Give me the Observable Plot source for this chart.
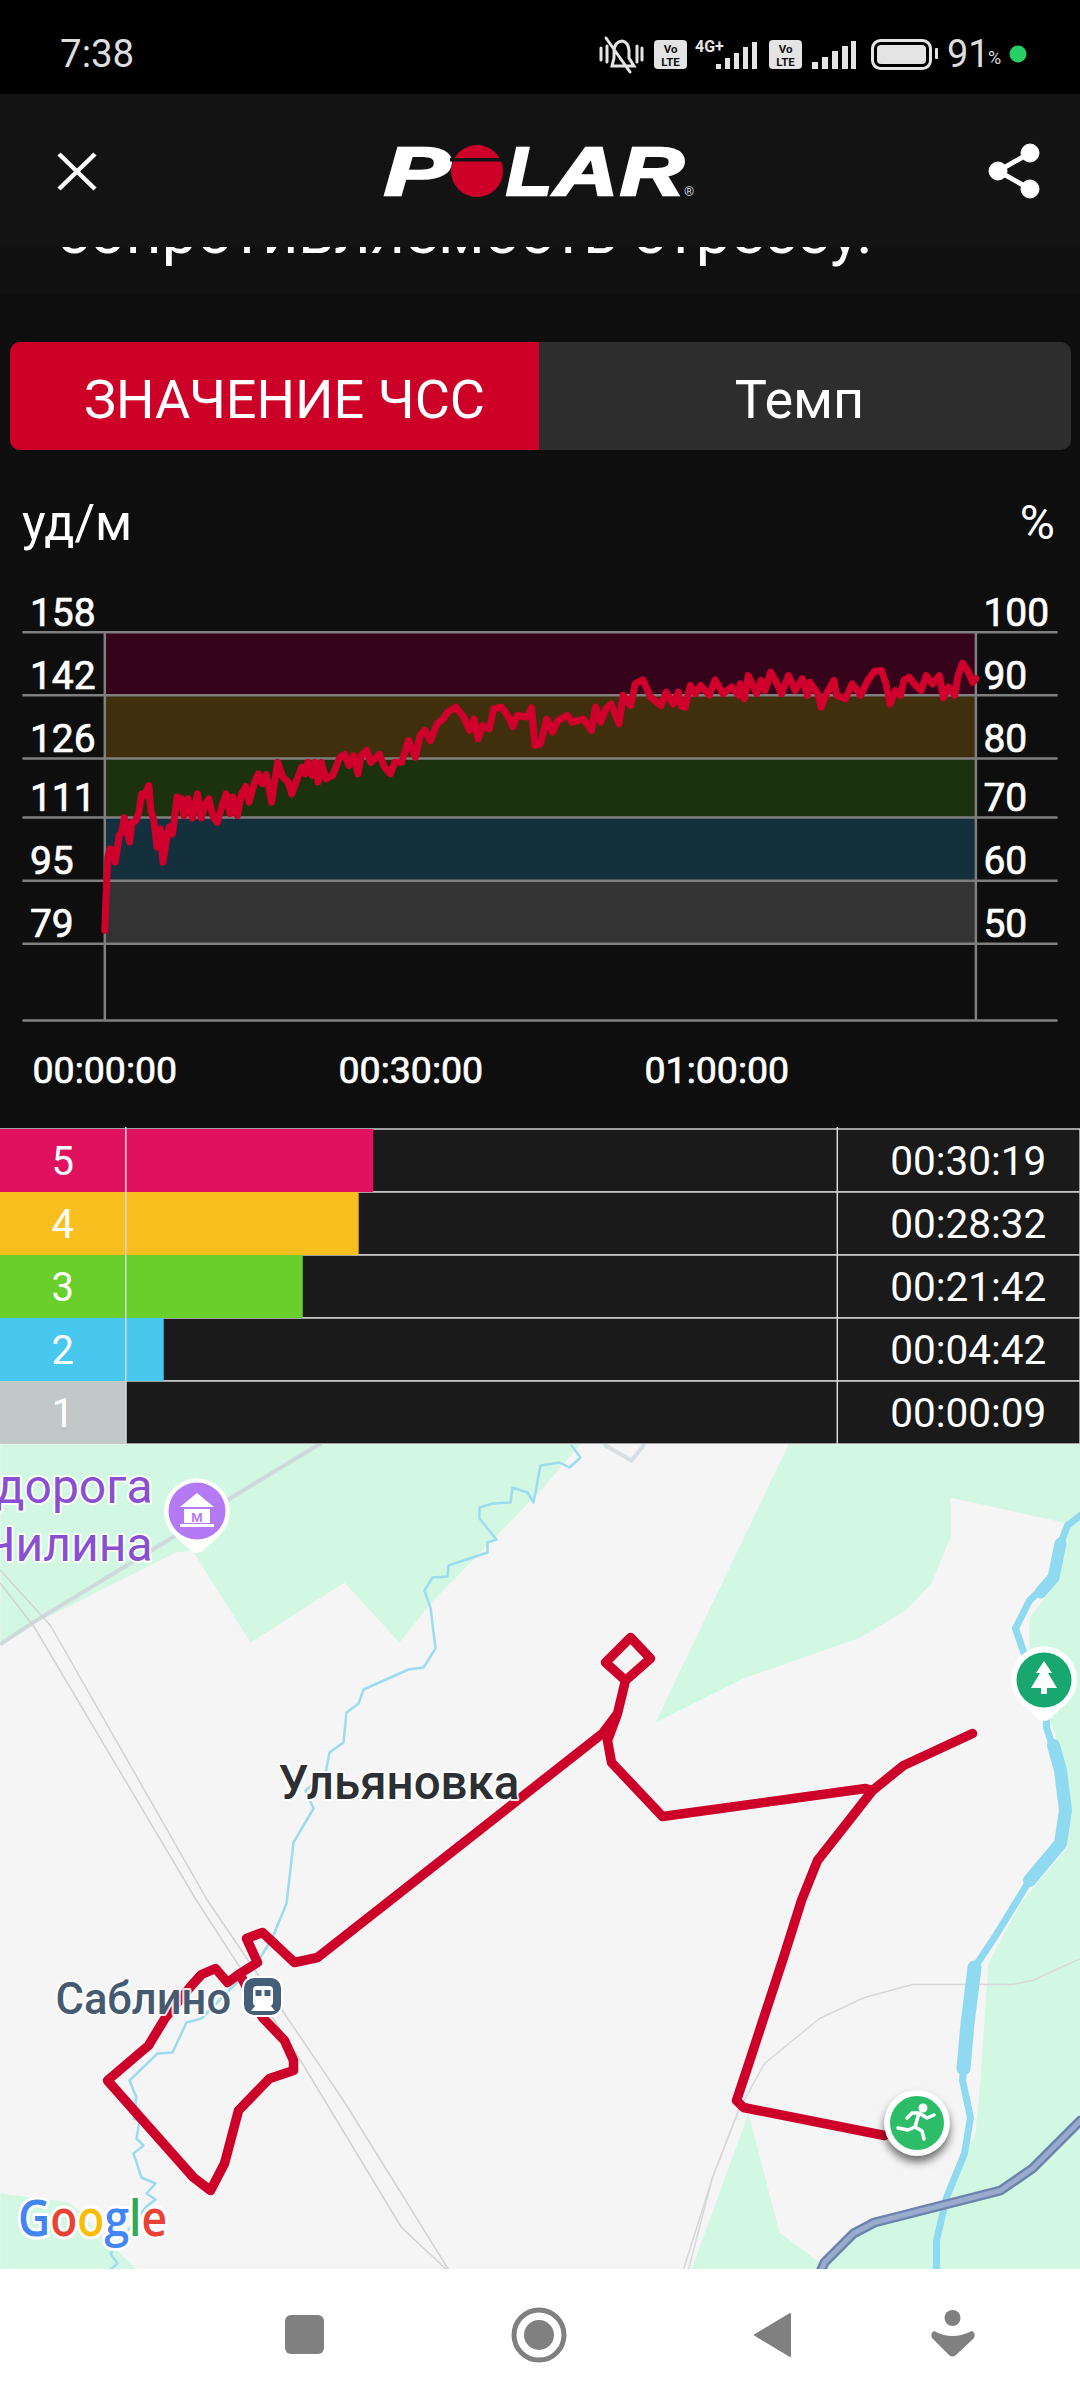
<!DOCTYPE html>
<html lang="ru"><head><meta charset="utf-8">
<script src="https://cdn.jsdelivr.net/npm/d3@7"></script>
<script src="https://cdn.jsdelivr.net/npm/@observablehq/plot@0.6"></script>
<style>
html,body{margin:0;padding:0;width:1080px;height:2400px;overflow:hidden;background:#0e0e0e;font-family:Roboto,sans-serif}
.a{position:absolute;white-space:nowrap}
.slot svg{background:transparent!important;display:block}
.slot{position:absolute;left:0;width:1080px}
</style></head><body>
<div class="a" style="left:0;top:0;width:1080px;height:94px;background:#000"></div>
<div class="a" style="left:0;top:94px;width:1080px;height:200px;background:#131313"></div>
<div class="a" style="left:0;top:247px;width:1080px;height:47px;overflow:hidden;background:#101010">
 <div class="a" style="left:57px;top:-52px;font-size:62.7px;line-height:74px;color:#fff">сопротивляемость стрессу.</div>
</div>
<div class="a" style="left:60px;top:31px;font-size:38.5px;line-height:46px;color:#ddd">7:38</div>
<div class="a" style="left:947px;top:31px;font-size:38px;line-height:46px;color:#ddd">91</div>
<div class="a" style="left:988px;top:46px;font-size:18px;line-height:24px;color:#ddd">%</div>
<div class="a" style="left:10px;top:342px;width:1061px;height:108px;background:#2d2d2d;border-radius:10px"></div>
<div class="a" style="left:10px;top:342px;width:529px;height:108px;background:#cd0027;border-radius:10px 0 0 10px"></div>
<div class="a" style="left:10px;top:342px;width:549px;height:108px;line-height:116px;text-align:center;font-size:54px;color:#fff">ЗНАЧЕНИЕ ЧСС</div>
<div class="a" style="left:539px;top:342px;width:521px;height:108px;line-height:116px;text-align:center;font-size:54px;color:#fff">Темп</div>
<div class="a" style="left:22px;top:493px;font-size:50px;line-height:60px;color:#fff">уд/м</div>
<div class="a" style="right:25px;top:493px;font-size:48px;line-height:60px;color:#fff">%</div>
<div id="hr" class="slot" style="top:590px"></div>
<div id="zones" class="slot" style="top:1127px"></div>
<div id="map" class="slot" style="top:1444px;height:825px;overflow:hidden;background:#f5f5f5"></div>
<div class="a" style="left:0;top:2269px;width:1080px;height:131px;background:#fff"></div>

<svg class="a" style="left:0;top:0;pointer-events:none" width="1080" height="2400" viewBox="0 0 1080 2400" font-family="Roboto">
 <!-- status bar -->
 <g fill="none" stroke="#e4e4e4" stroke-width="3" stroke-linecap="round">
  <path d="M612 66 L634 66 L629 58 L629 50 Q628 42 622 41 Q615 42 614 50 L614 58 Z M606 38 L630 72 M601 48 V60 M642 48 V60 M607 46 V62 M637 46 V62"/>
 </g>
 <g fill="#e4e4e4"><rect x="654" y="40" width="33" height="29" rx="4"/><rect x="769" y="40" width="33" height="29" rx="4"/></g>
 <g fill="#111" font-size="11.5" font-weight="700" text-anchor="middle">
  <text x="670.5" y="53">Vo</text><text x="670.5" y="66">LTE</text><text x="785.5" y="53">Vo</text><text x="785.5" y="66">LTE</text></g>
 <text x="695" y="52" font-size="16" font-weight="700" fill="#e4e4e4">4G+</text>
 <g fill="#e4e4e4">
  <rect x="716" y="64" width="5" height="5"/><rect x="725" y="58" width="5" height="11"/><rect x="734" y="53" width="5" height="16"/><rect x="743" y="47" width="5" height="22"/><rect x="752" y="42" width="5" height="27"/>
  <rect x="812" y="62" width="6" height="7"/><rect x="822" y="57" width="6" height="12"/><rect x="832" y="51" width="6" height="18"/><rect x="842" y="46" width="6" height="23"/><rect x="851" y="41" width="5" height="28"/>
  <rect x="935" y="48" width="3" height="11" rx="1"/>
 </g>
 <rect x="872.5" y="40.5" width="58" height="28" rx="8" fill="none" stroke="#e4e4e4" stroke-width="3"/>
 <rect x="877" y="45" width="49" height="19" rx="4" fill="#e4e4e4"/>
 <circle cx="1018" cy="54" r="8.5" fill="#27d066"/>
 <!-- header icons -->
 <path d="M59 154 L95 189 M95 154 L59 189" stroke="#fff" stroke-width="4.5" fill="none"/>
 <g fill="#fff" stroke="#fff" stroke-width="2.5" font-family="Liberation Sans" font-weight="700" font-style="italic" font-size="68">
  <text x="384" y="195" textLength="66" lengthAdjust="spacingAndGlyphs">P</text>
  <text x="506" y="195" textLength="46" lengthAdjust="spacingAndGlyphs">L</text>
  <text x="554" y="195" textLength="64" lengthAdjust="spacingAndGlyphs">A</text>
  <text x="620" y="195" textLength="64" lengthAdjust="spacingAndGlyphs">R</text>
 </g>
 <ellipse cx="477" cy="171" rx="26" ry="26" fill="#cd0027"/><rect x="450" y="158" width="54" height="3.5" fill="#131313"/>
 <text x="684" y="196" font-size="13" fill="#ccc">®</text>
 <g fill="#fff" stroke="#fff"><path d="M1030 153 L998 171 L1030 189" fill="none" stroke-width="5"/><circle cx="1030" cy="153" r="9"/><circle cx="998" cy="171" r="9"/><circle cx="1030" cy="189" r="9"/></g>

 <!-- map pins -->
 <path d="M197 1553 Q192 1553 187 1547 L174 1535 A33 33 0 1 1 220 1535 L207 1547 Q202 1553 197 1553Z" fill="#fff"/>
 <circle cx="197" cy="1511" r="28.5" fill="#b47af5"/>
 <g fill="#fff"><path d="M197 1493 L180 1507 H214Z"/><rect x="184" y="1509" width="26" height="14"/><rect x="180" y="1524" width="34" height="3"/></g>
 <text x="197" y="1522" font-size="13" font-weight="700" fill="#b47af5" text-anchor="middle">М</text>

 <path d="M1044 1721 Q1039 1721 1034 1715 L1021 1703 A33 33 0 1 1 1067 1703 L1054 1715 Q1049 1721 1044 1721Z" fill="#fff"/>
 <circle cx="1044" cy="1680" r="27.5" fill="#18a86f"/>
 <path d="M1044 1661 L1052 1673 H1048 L1057 1688 H1047 V1694 H1041 V1688 H1031 L1040 1673 H1036Z" fill="#fff"/>

 <g style="filter:drop-shadow(0 6px 4px rgba(0,0,0,.55))"><circle cx="917" cy="2123" r="33" fill="#fff"/></g>
 <circle cx="917" cy="2123" r="27" fill="#2dbd68"/>
 <g fill="none" stroke="#fff" stroke-width="3.5" stroke-linecap="round" stroke-linejoin="round">
  <path d="M907 2118 L912 2113 H919 L915 2127 L922 2131 L924 2139 M919 2113 L927 2118 L934 2115 M915 2127 L908 2130 L898 2128"/></g>
 <circle cx="923" cy="2108" r="4.5" fill="#fff"/>

 <rect x="243" y="1977" width="39" height="39" rx="11" fill="#455f78" stroke="#fff" stroke-width="2"/>
 <rect x="253" y="1986" width="20" height="20" rx="4" fill="#fff"/>
 <rect x="255.5" y="1990" width="6" height="6" fill="#455f78"/><rect x="264.5" y="1990" width="6" height="6" fill="#455f78"/>
 <path d="M255 2006 L251 2011 H275 L271 2006Z" fill="#fff"/>

 <g font-family="Open Sans" font-size="50" font-weight="600" stroke="#fff" stroke-width="6" paint-order="stroke" stroke-linejoin="round">
  <text x="18" y="2236" textLength="149" lengthAdjust="spacingAndGlyphs"><tspan fill="#4285f4">G</tspan><tspan fill="#ea4335">o</tspan><tspan fill="#fbbc05">o</tspan><tspan fill="#4285f4">g</tspan><tspan fill="#34a853">l</tspan><tspan fill="#ea4335">e</tspan></text>
 </g>

 <!-- navigation bar -->
 <g fill="#808080">
  <rect x="285" y="2315" width="39" height="39" rx="6"/>
  <circle cx="539" cy="2335" r="25" fill="none" stroke="#808080" stroke-width="5"/><circle cx="539" cy="2335" r="15"/>
  <path d="M790 2314 L755 2335 L790 2356Z" stroke="#808080" stroke-width="2" stroke-linejoin="round"/>
  <circle cx="952.5" cy="2318" r="8"/>
  <path d="M934 2331 Q952 2341 972 2331 Q976 2333 974 2338 L956 2355 Q952.5 2358 949 2355 L932 2338 Q930 2333 934 2331Z"/>
 </g>
</svg>

<script>
// Heart rate trace
const hrSeconds = [0,6,18,30,45,61,75,85,99,115,130,146,160,180,201,217,233,259,271,288,308,328,342,359,379,399,413,425,450,466,490,515,545,567,588,612,638,662,693,713,737,754,780,804,829,849,879,902,926,950,981,997,1017,1047,1078,1100,1128,1159,1179,1195,1220,1236,1254,1274,1301,1341,1382,1412,1436,1463,1489,1509,1540,1564,1615,1645,1680,1706,1746,1787,1827,1854,1882,1915,1955,1990,2016,2064,2111,2146,2172,2196,2223,2263,2287,2334,2375,2401,2425,2486,2510,2530,2563,2599,2634,2664,2721,2749,2816,2863,2887,2918,2948,2978,3025,3049,3094,3120,3165,3211,3272,3302,3343,3373,3390,3414,3444,3475,3505,3556,3590,3637,3687,3728,3738,3762,3785,3835,3860,3884,3916,3945,3981,4022,4062,4103,4133,4147,4194,4214,4245,4289,4305,4356,4396,4447,4488,4528,4569,4595,4619,4650,4680,4701,4731,4761,4802,4832,4869,4909,4933,4964,5000,5019,5045,5075,5106,5124];
const hrBpm = [82.4,90,101,103.1,102.7,99.7,103.5,106.5,107.3,111,107.7,104.8,109.8,110.1,112.4,117,116.6,119.1,112.8,110.3,103.5,108.1,99.7,104.4,108.6,106.9,112,116.2,115.8,111.5,115.8,110.9,117,110.9,114.1,115.8,111.1,109.8,114.5,117,112,116.2,111.5,117,118.9,114.9,119.6,122.1,119.6,121.9,114.9,119.6,125,121.3,120,117,120.4,123.8,122.1,125,121.7,125,120,125,120.8,121.7,126.3,127,124.2,126.7,122.1,126.7,128,125,127,123.8,122.1,125,125,130.5,126.3,131.8,133.1,130.5,134.8,136,137.7,139,136.5,133.1,136,131,134.3,133.5,138.6,139,136.5,134,136.9,136.5,138.8,129.3,129.7,136,132.7,135.6,136.9,135.2,136,133.1,139,135.2,138.6,139.8,134.8,142,139.4,144.9,145.9,141.5,139.4,142.8,139.8,142.8,139.2,139,144.5,142.4,144.5,142,145.9,142.4,144.1,142,144.9,141.1,147,142.4,145.8,143.2,147.9,145.8,142.4,147,143.2,146.2,142,145.3,142.4,139,142.4,145.8,142,141.1,144.9,142,145.8,148.1,148.3,144.9,139.8,143.2,142,145.8,146.6,144.9,143.2,147,144.9,147,141.4,144.1,142,147,150.1,148.3,145.3,146.2];

// Heart-rate axes and zone bands
const bpmTicks = [158,142,126,111,95,79];
const pctTicks = [100,90,80,70,60,50];
const timeTicks = [0,1800,3600];
const bandColors = ["#36041a","#3f2f0c","#1c310d","#14303c","#333333"];
const totalSeconds = 5124, bpmBottom = 59.55, gutterLeft = -481.8, gutterRight = 5607.6;

// Zone table
const zoneIds = [5,4,3,2,1];
const zoneSeconds = [1819,1712,1302,282,9];
const zoneLabels = ["00:30:19","00:28:32","00:21:42","00:04:42","00:00:09"];
const zoneColors = ["#e0115f","#f9bf1e","#6bcf2b","#48c8ef","#c2c8c8"];

// Map features, in map units
const routeX = [884,743,736,747,783,801,817,843,872,903,972,903,872,865,662,611,607,617,625,605,630,650,625,617,602,317,294,262,246,257,238,227,215,201,191,165,148,107,193,210,224,238,269,293,293,284,262,241,238];
const routeY = [2135,2107,2100,2067,1957,1900,1860,1827,1790,1765,1733,1765,1790,1788,1816,1762,1740,1713,1680,1662,1637,1658,1680,1713,1733,1957,1962,1932,1938,1962,1974,1982,1968,1974,1985,2017,2045,2080,2177,2190,2163,2110,2078,2070,2060,2040,2017,1977,1974];
const forestNorthX = [0,580,540,430,399,344,250,192,175,30,0];
const forestNorthY = [1444,1444,1490,1603,1642,1582,1642,1550,1552,1625,1645];
const forestMidX = [788,655,743,860,905,931,950,950,1063,1080,1080];
const forestMidY = [1444,1722,1678,1637,1610,1583,1537,1497,1522,1525,1444];
const forestEastX = [691,748,779,819,872,943,962,975,980,988,1022,1067,1065,1050,1029,1029,1053,1063,1070,1080,1080];
const forestEastY = [2269,2113,2232,2262,2218,2202,2160,2133,2080,1963,1900,1847,1767,1720,1647,1617,1587,1547,1523,1525,2269];
const forestSouthX = [0,69,136,0];
const forestSouthY = [2193,2202,2269,2269];
const riverX = [1080,1067,1060,1053,1029,1015,1025,1045,1046,1060,1065,1060,1029,994,974,967,962,970,964,946,936,936];
const riverY = [1515,1525,1543,1577,1600,1628,1657,1680,1727,1770,1810,1843,1880,1937,1967,2023,2080,2117,2153,2197,2240,2269];
const riverWideAX = [1060,1053,1040];
const riverWideAY = [1543,1577,1592];
const riverWideBX = [1053,1060,1065,1060,1029];
const riverWideBY = [1745,1770,1810,1843,1880];
const riverWideCX = [974,967,963];
const riverWideCY = [1967,2023,2068];
const streamX = [571,580,569,559,540,533,527,512,510,492,479,479,496,487,487,448,447,432,424,430,435,423,408,363,358,346,343,329,325,305,313,293,286,272,258,201,186,172,157,129,136,133,139,136,143,133,141,155,146,155,145,110,117,110];
const streamY = [1445,1457,1467,1462,1465,1502,1492,1487,1502,1503,1507,1518,1539,1542,1552,1565,1576,1577,1590,1607,1648,1667,1669,1689,1703,1712,1742,1752,1773,1790,1808,1842,1903,1937,1960,2018,2022,2052,2053,2080,2097,2118,2120,2138,2145,2153,2177,2183,2193,2199,2207,2253,2263,2269];
const highwayX = [821,824,853,874,1000,1032,1080];
const highwayY = [2269,2262,2233,2222,2190,2168,2120];
const roadX = [1,31,172,231,320];
const roadY = [1643,1623,1537,1497,1443];
const roadTopX = [605,631,643];
const roadTopY = [1445,1460,1445];
const trackAX = [0,34,196,300,401,446];
const trackAY = [1583,1627,1900,2060,2227,2269];
const trackBX = [0,50,207,343,448];
const trackBY = [1570,1625,1900,2100,2269];
const trackCX = [683,712,738,764,819,864,912,1012,1032,1080];
const trackCY = [2269,2177,2110,2063,2018,1997,1984,1984,1980,1958];
const trackDX = [688,712,738];
const trackDY = [2269,2177,2110];
const placeNames = ["дорога","Чилина","Ульяновка","Саблино"];

const zip2 = (xs, ys) => xs.map((x, i) => ({x, y: ys[i]}));
const hms = s => [s/3600|0, (s%3600)/60|0, s%60].map(n => String(n).padStart(2,"0")).join(":");

const hrData = zip2(hrSeconds, hrBpm);
const bands = bandColors.map((color, i) => ({color, hi: bpmTicks[i], lo: bpmTicks[i+1]}));
const grey = "#7f7f7f";
const common = {fontFamily:"Roboto", fontSize:39, fill:"#fff", stroke:"#fff", strokeWidth:0.7};

document.getElementById("hr").append(Plot.plot({
  width:1080, height:510, marginTop:41.7, marginBottom:80, marginLeft:22.4, marginRight:22.4,
  style:{background:"transparent", fontFamily:"Roboto", overflow:"visible"},
  x:{domain:[gutterLeft,gutterRight], axis:null},
  y:{domain:[bpmBottom,158], axis:null},
  color:{type:"identity"},
  marks:[
    Plot.rectY(bands,{x1:()=>0, x2:()=>totalSeconds, y1:"lo", y2:"hi", fill:"color", inset:0}),
    Plot.ruleY([...bpmTicks,bpmBottom],{stroke:grey, strokeWidth:2.5}),
    Plot.ruleX([0,totalSeconds],{y1:()=>158, y2:()=>bpmBottom, stroke:grey, strokeWidth:2.5}),
    Plot.line(hrData,{x:"x",y:"y",stroke:"#d0002c",strokeWidth:7,strokeLinejoin:"round",strokeLinecap:"round"}),
    Plot.text(bpmTicks,{x:()=>gutterLeft, y:d=>d, text:d=>String(d), dx:7, dy:-19, textAnchor:"start", ...common}),
    Plot.text(bpmTicks,{x:()=>totalSeconds, y:d=>d, text:(d,i)=>String(pctTicks[i]), dx:7.5, dy:-19, textAnchor:"start", ...common}),
    Plot.text(timeTicks,{x:d=>d, y:()=>bpmBottom, text:d=>hms(d), dy:50, ...common, fontSize:37.5})
  ]
}));

const zones = zoneIds.map((id,i)=>({id, sec:zoneSeconds[i], label:zoneLabels[i], color:zoneColors[i]}));
const tx0 = -919.3, tx1 = 7004.4, trackEnd = 5220, labelCol = 6181;
document.getElementById("zones").append(Plot.plot({
  width:1080, height:318, margin:0,
  style:{background:"transparent", fontFamily:"Roboto", overflow:"visible"},
  x:{domain:[tx0,tx1], axis:null},
  y:{domain:zoneIds, axis:null, padding:0},
  color:{type:"identity"},
  marks:[
    Plot.barX(zones,{x1:()=>tx0, x2:()=>tx1, y:"id", fill:"#1a1a1a", stroke:"#cfcfcf", strokeWidth:1.5}),
    Plot.barX(zones,{x1:()=>tx0, x2:()=>0, y:"id", fill:"color"}),
    Plot.barX(zones,{x1:()=>0, x2:"sec", y:"id", fill:"color"}),
    Plot.ruleX([0,trackEnd],{stroke:"#d8d8d8", strokeWidth:1.5}),
    Plot.text(zones,{x:()=>-462, y:"id", dy:1.5, text:d=>String(d.id), fontFamily:"Roboto", fontSize:40, fill:"#fff"}),
    Plot.text(zones,{x:()=>labelCol, y:"id", dy:1.5, text:"label", fontFamily:"Roboto", fontSize:40.5, fill:"#fff"})
  ]
}));

const poly = (xs, ys, fill) => Plot.line(zip2(xs,ys),{x:"x",y:"y",fill,stroke:"none"});
const path = (xs, ys, stroke, strokeWidth) => Plot.line(zip2(xs,ys),{x:"x",y:"y",stroke,strokeWidth,strokeLinejoin:"round"});
const place = (text, x, y, fill, size, weight, anchor) => Plot.text([{x,y,text}],{x:"x",y:"y",text:"text",fill,fontSize:size,fontWeight:weight,textAnchor:anchor,lineAnchor:"bottom",fontFamily:"Roboto",stroke:"#fff",strokeWidth:4,strokeOpacity:0.9,strokeLinejoin:"round"});
const forest = "#d2f7e2", water = "#8fdaf0";
const mapSvg = Plot.plot({
  width:1080, height:825, margin:0,
  style:{background:"transparent", fontFamily:"Roboto", overflow:"hidden"},
  x:{domain:[0,1080], axis:null},
  y:{domain:[1444,2269], range:[0,825], axis:null},
  marks:[
    poly(forestNorthX,forestNorthY,forest),
    poly(forestMidX,forestMidY,forest),
    poly(forestEastX,forestEastY,forest),
    poly(forestSouthX,forestSouthY,forest),
    path(roadX,roadY,"#ced9dc",4),
    path(roadTopX,roadTopY,"#d5dfe4",4),
    path(trackAX,trackAY,"#d2d2d2",1.5),
    path(trackBX,trackBY,"#d2d2d2",1.5),
    path(trackCX,trackCY,"#d8d8d8",1.5),
    path(trackDX,trackDY,"#d8d8d8",1.5),
    path(streamX,streamY,"#9ddcf0",2.5),
    path(riverX,riverY,water,7),
    path(riverWideAX,riverWideAY,water,12),
    path(riverWideBX,riverWideBY,water,13),
    path(riverWideCX,riverWideCY,water,14),
    path(highwayX,highwayY,"#6c83ad",10),
    path(highwayX,highwayY,"#9aaccd",5),
    path(routeX,routeY,"#cc0029",9.5),
    place(placeNames[0],152,1502,"#8a4ed2",48,400,"end"),
    place(placeNames[1],152,1560,"#8a4ed2",48,400,"end"),
    place(placeNames[2],278,1798,"#2c2f33",47.5,500,"start"),
    place(placeNames[3],55,2013,"#455a70",43.5,500,"start")
  ]
});
document.getElementById("map").append(mapSvg);
</script>
</body></html>
